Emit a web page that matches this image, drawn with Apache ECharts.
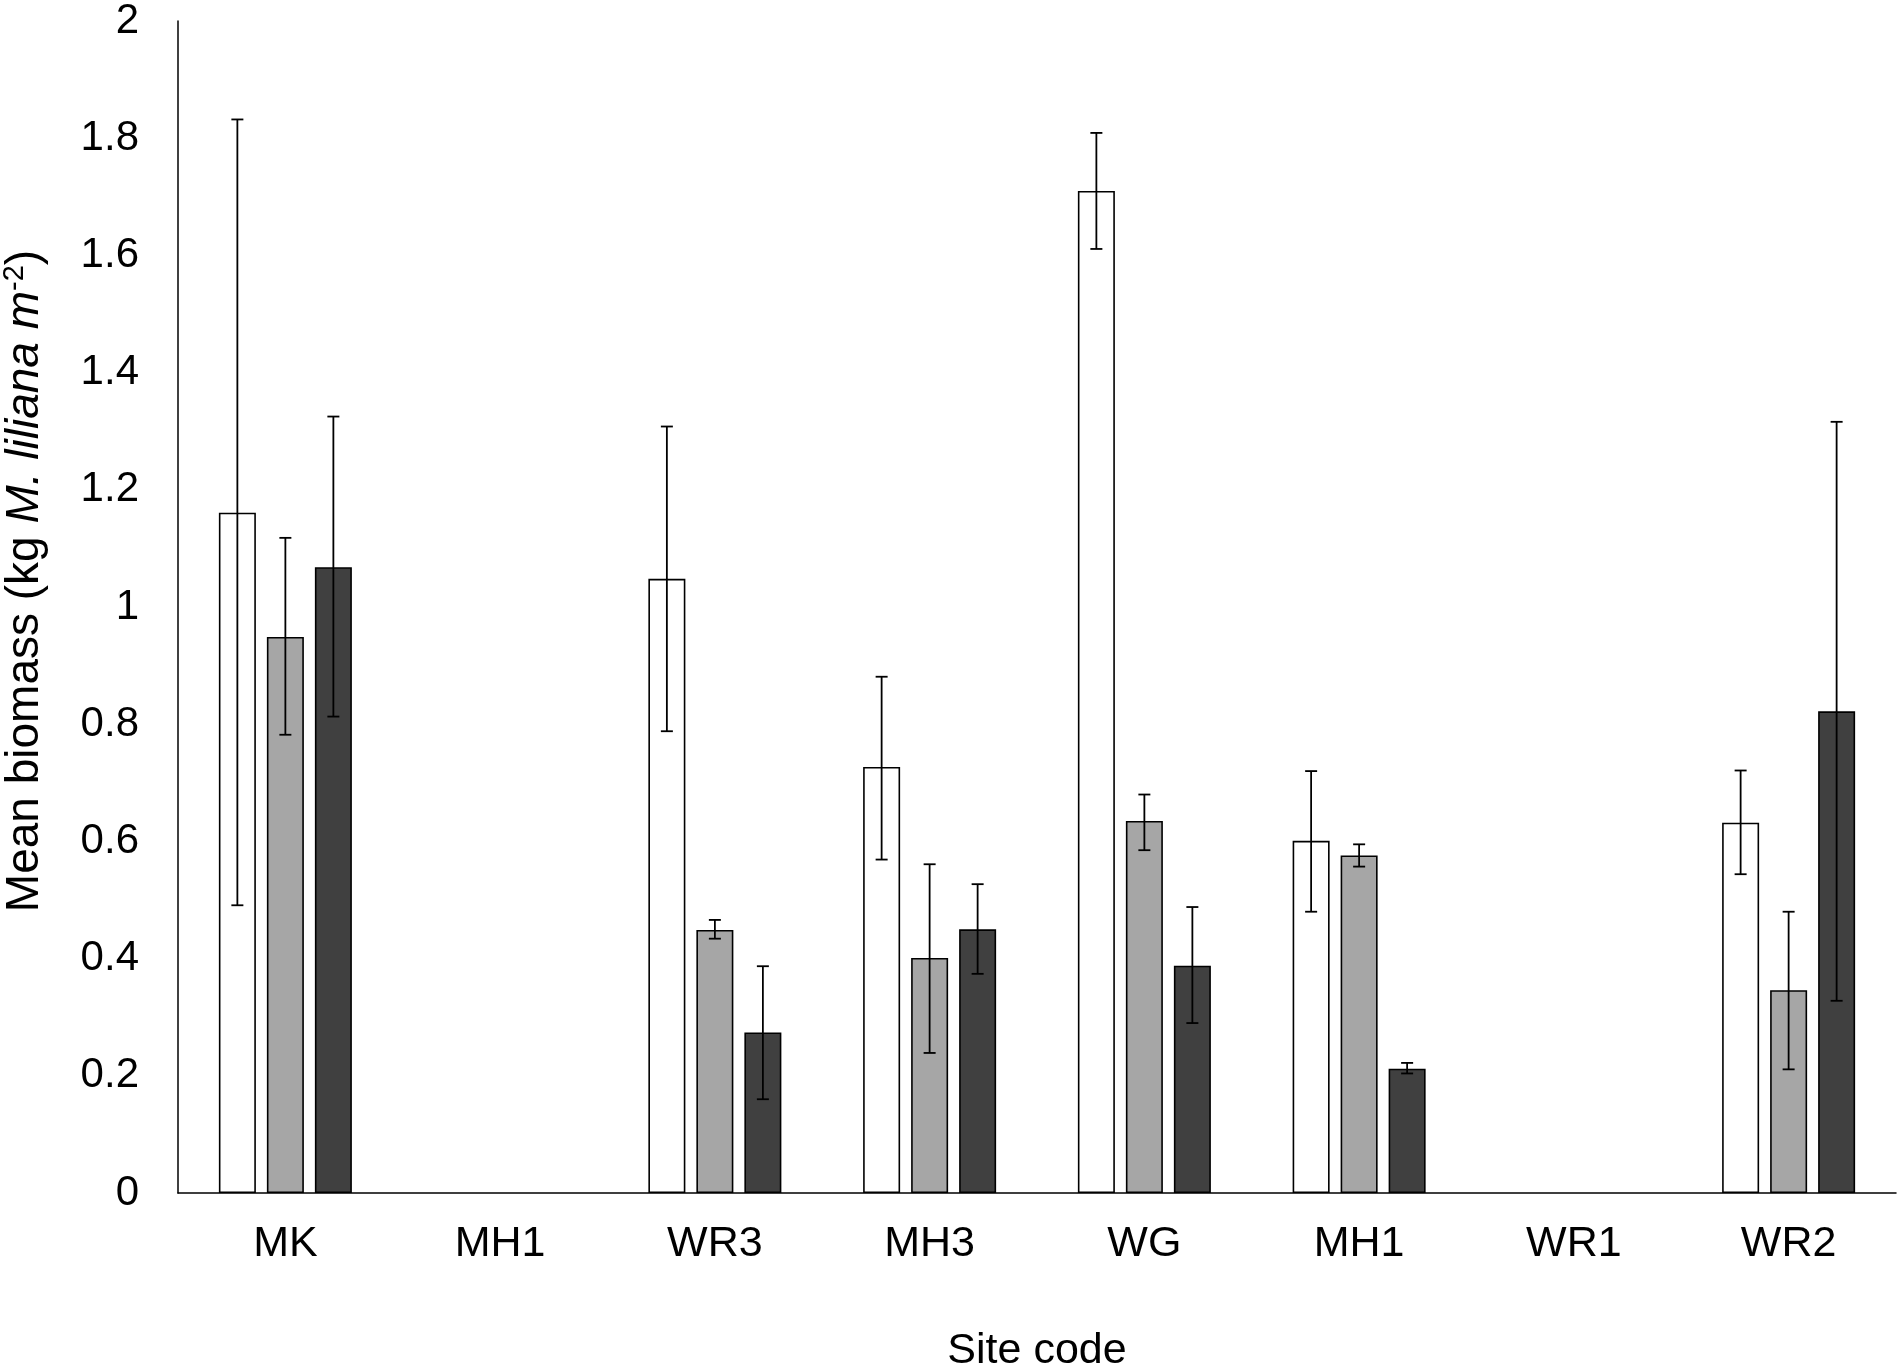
<!DOCTYPE html>
<html>
<head>
<meta charset="utf-8">
<script src="https://cdn.jsdelivr.net/npm/echarts@6/dist/echarts.min.js"></script>
<style>
  html, body { margin: 0; padding: 0; background: #fff; }
  #chart { width: 1900px; height: 1371px; }
</style>
</head>
<body>
<div id="chart"></div>
<script>
// site codes (MH1 appears twice in the original figure)
var sites = ['MK', 'MH1', 'WR3', 'MH3', 'WG', 'MH1', 'WR1', 'WR2'];

// mean biomass, three treatments (white / grey / dark bars)
var whiteMean = [1.161, null, 1.048, 0.727, 1.710, 0.601, null, 0.632];
var whiteLow  = [0.491, null, 0.788, 0.569, 1.611, 0.480, null, 0.544];
var whiteHigh = [1.832, null, 1.308, 0.881, 1.809, 0.720, null, 0.721];

var greyMean = [0.949, null, 0.449, 0.401, 0.635, 0.576, null, 0.346];
var greyLow  = [0.782, null, 0.434, 0.239, 0.585, 0.557, null, 0.211];
var greyHigh = [1.118, null, 0.466, 0.561, 0.680, 0.595, null, 0.480];

var darkMean = [1.068, null, 0.274, 0.450, 0.388, 0.212, null, 0.822];
var darkLow  = [0.813, null, 0.160, 0.374, 0.290, 0.204, null, 0.328];
var darkHigh = [1.325, null, 0.387, 0.527, 0.488, 0.222, null, 1.316];

var yTicks = [0, 0.2, 0.4, 0.6, 0.8, 1, 1.2, 1.4, 1.6, 1.8, 2];

var BAR_W = 37;
var BAR_GAP = 11;

// [index, low, high] rows, skipping empty sites
function errRows(low, high) {
    var rows = [];
    for (var i = 0; i < low.length; i++) {
        if (low[i] != null) rows.push([i, low[i], high[i]]);
    }
    return rows;
}

function errorRenderer(offset) {
    return function (params, api) {
        var idx = api.value(0);
        var lo = api.coord([idx, api.value(1)]);
        var hi = api.coord([idx, api.value(2)]);
        var cx = lo[0] + offset;
        var cap = 6;
        var st = { stroke: '#000', lineWidth: 1.8 };
        return {
            type: 'group',
            children: [
                { type: 'line', shape: { x1: cx, y1: hi[1], x2: cx, y2: lo[1] }, style: st },
                { type: 'line', shape: { x1: cx - cap, y1: hi[1], x2: cx + cap, y2: hi[1] }, style: st },
                { type: 'line', shape: { x1: cx - cap, y1: lo[1], x2: cx + cap, y2: lo[1] }, style: st }
            ]
        };
    };
}

var font = 'Liberation Sans, Arial, sans-serif';
var myChart = echarts.init(document.getElementById('chart'));

var option = {
    backgroundColor: '#fff',
    animation: false,
    grid: { left: 178, right: 4, top: 21, bottom: 178, outerBoundsMode: 'none', containLabel: false },
    xAxis: {
        type: 'category',
        data: sites,
        name: 'Site code',
        nameLocation: 'middle',
        nameGap: 137,
        nameTextStyle: { fontFamily: font, fontSize: 43, color: '#000' },
        axisLine: { lineStyle: { color: '#000', width: 1.5 } },
        axisTick: { show: false },
        axisLabel: { fontFamily: font, fontSize: 43, color: '#000', margin: 30 }
    },
    yAxis: {
        type: 'value',
        min: 0,
        max: 2,
        interval: 0.2,
        name: '{n|Mean biomass (kg }{i|M. liliana m}{s|-2}{n|)}',
        nameLocation: 'middle',
        nameGap: 128,
        nameTextStyle: {
            fontFamily: font,
            fontSize: 46,
            color: '#000',
            padding: [0, 0, 0, 52],
            rich: {
                n: { fontFamily: font, fontSize: 46, color: '#000', lineHeight: 50 },
                i: { fontFamily: font, fontSize: 46, color: '#000', fontStyle: 'italic', lineHeight: 50 },
                s: { fontFamily: font, fontSize: 29, color: '#000', verticalAlign: 'top', lineHeight: 34 }
            }
        },
        axisLine: { show: true, lineStyle: { color: '#000', width: 1.5 } },
        axisTick: { show: false },
        splitLine: { show: false },
        axisLabel: {
            fontFamily: font,
            fontSize: 42,
            color: '#000',
            margin: 39,
            formatter: function (v) {
                // only print the listed tick labels
                for (var k = 0; k < yTicks.length; k++) {
                    if (Math.abs(yTicks[k] - v) < 1e-6) return String(yTicks[k]);
                }
                return '';
            }
        }
    },
    series: [
        {
            name: 'white', type: 'bar', data: whiteMean,
            barWidth: BAR_W, barGap: (BAR_GAP / BAR_W * 100) + '%',
            itemStyle: { color: '#ffffff', borderColor: '#000', borderWidth: 1.6 }
        },
        {
            name: 'grey', type: 'bar', data: greyMean,
            barWidth: BAR_W,
            itemStyle: { color: '#a6a6a6', borderColor: '#000', borderWidth: 1.6 }
        },
        {
            name: 'dark', type: 'bar', data: darkMean,
            barWidth: BAR_W,
            itemStyle: { color: '#404040', borderColor: '#000', borderWidth: 1.6 }
        },
        {
            type: 'custom', renderItem: errorRenderer(-(BAR_W + BAR_GAP)),
            data: errRows(whiteLow, whiteHigh), z: 10, silent: true
        },
        {
            type: 'custom', renderItem: errorRenderer(0),
            data: errRows(greyLow, greyHigh), z: 10, silent: true
        },
        {
            type: 'custom', renderItem: errorRenderer(BAR_W + BAR_GAP),
            data: errRows(darkLow, darkHigh), z: 10, silent: true
        }
    ]
};

myChart.setOption(option);
</script>
</body>
</html>
